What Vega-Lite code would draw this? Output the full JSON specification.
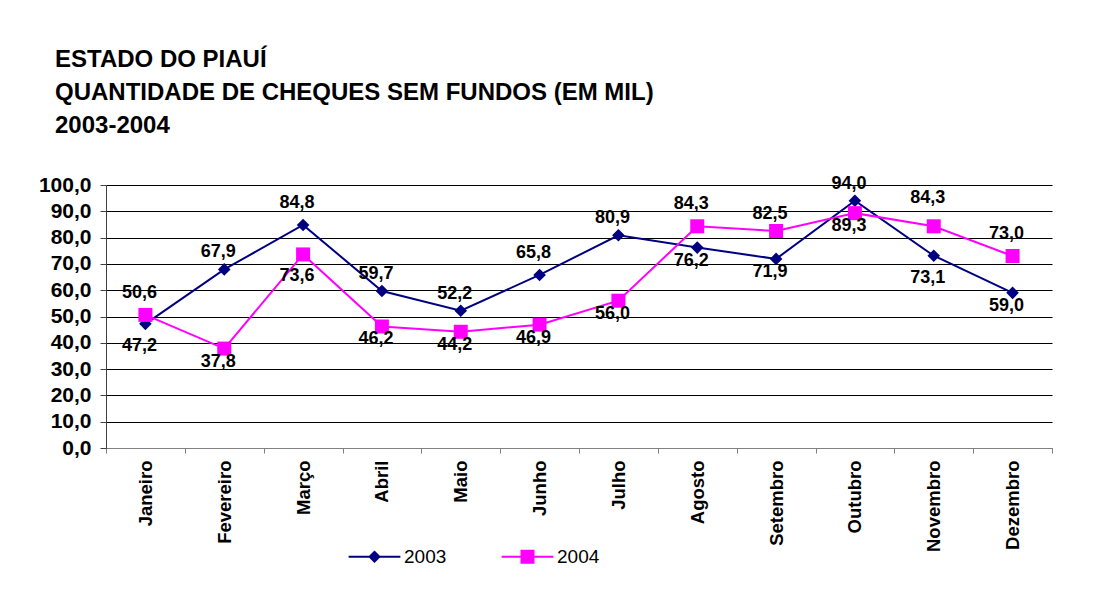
{
  "$schema": "https://vega.github.io/schema/vega-lite/v6.json",
  "width": 946,
  "height": 263,
  "autosize": {"type": "none"},
  "padding": {"left": 106, "top": 185, "right": 42, "bottom": 145},
  "background": "white",
  "config": {
    "view": {"stroke": null},
    "locale": {"number": {"decimal": ",", "thousands": ".", "grouping": [3], "currency": ["R$", ""]}}
  },
  "title": {
    "text": ["ESTADO DO PIAUÍ", "QUANTIDADE DE CHEQUES SEM FUNDOS (EM MIL)", "2003-2004"],
    "anchor": "start",
    "frame": "group",
    "dx": -51,
    "offset": 36,
    "font": "Liberation Sans",
    "fontSize": 24,
    "fontWeight": "bold",
    "lineHeight": 33,
    "color": "black"
  },
  "data": {
    "values": [
      {"month": "Janeiro", "year": "2003", "value": 47.2},
      {"month": "Fevereiro", "year": "2003", "value": 67.9},
      {"month": "Março", "year": "2003", "value": 84.8},
      {"month": "Abril", "year": "2003", "value": 59.7},
      {"month": "Maio", "year": "2003", "value": 52.2},
      {"month": "Junho", "year": "2003", "value": 65.8},
      {"month": "Julho", "year": "2003", "value": 80.9},
      {"month": "Agosto", "year": "2003", "value": 76.2},
      {"month": "Setembro", "year": "2003", "value": 71.9},
      {"month": "Outubro", "year": "2003", "value": 94.0},
      {"month": "Novembro", "year": "2003", "value": 73.1},
      {"month": "Dezembro", "year": "2003", "value": 59.0},
      {"month": "Janeiro", "year": "2004", "value": 50.6},
      {"month": "Fevereiro", "year": "2004", "value": 37.8},
      {"month": "Março", "year": "2004", "value": 73.6},
      {"month": "Abril", "year": "2004", "value": 46.2},
      {"month": "Maio", "year": "2004", "value": 44.2},
      {"month": "Junho", "year": "2004", "value": 46.9},
      {"month": "Julho", "year": "2004", "value": 56.0},
      {"month": "Agosto", "year": "2004", "value": 84.3},
      {"month": "Setembro", "year": "2004", "value": 82.5},
      {"month": "Outubro", "year": "2004", "value": 89.3},
      {"month": "Novembro", "year": "2004", "value": 84.3},
      {"month": "Dezembro", "year": "2004", "value": 73.0}
    ]
  },
  "encoding": {
    "x": {
      "field": "month",
      "type": "nominal",
      "sort": ["Janeiro", "Fevereiro", "Março", "Abril", "Maio", "Junho", "Julho", "Agosto", "Setembro", "Outubro", "Novembro", "Dezembro"],
      "scale": {"type": "band", "paddingInner": 0, "paddingOuter": 0},
      "axis": {
        "title": null,
        "labelAngle": -90,
        "labelFont": "Liberation Sans",
        "labelFontSize": 18.5,
        "labelFontWeight": "bold",
        "labelColor": "black",
        "labelPadding": 7,
        "tickSize": 5,
        "tickBand": "extent",
        "tickColor": "#808080",
        "domainColor": "#808080",
        "grid": false
      }
    },
    "y": {
      "field": "value",
      "type": "quantitative",
      "scale": {"domain": [0, 100], "nice": false},
      "axis": {
        "title": null,
        "values": [0, 10, 20, 30, 40, 50, 60, 70, 80, 90, 100],
        "labelExpr": "replace(format(datum.value, '.1f'), '.', ',')",
        "labelFont": "Liberation Sans",
        "labelFontSize": 21,
        "labelFontWeight": "bold",
        "labelColor": "black",
        "labelPadding": 9,
        "tickSize": 6,
        "tickColor": "#404040",
        "domainColor": "#404040",
        "grid": true,
        "gridColor": "#000000",
        "gridOpacity": 1,
        "gridWidth": 1
      }
    },
    "color": {
      "field": "year",
      "type": "nominal",
      "scale": {"domain": ["2003", "2004"], "range": ["#000080", "#FF00FF"]},
      "legend": {
        "title": null,
        "orient": "none",
        "legendX": 259,
        "legendY": 362,
        "direction": "horizontal",
        "padding": 0,
        "labelFont": "Liberation Sans",
        "labelFontSize": 19,
        "labelColor": "black",
        "symbolSize": 196,
        "labelOffset": 20,
        "columnPadding": 54,
        "encode": {
          "symbols": {
            "update": {
              "shape": {"signal": "datum.value == '2003' ? 'M-3.7,-0.143H3.7V0.143H-3.7ZM0,-0.9L0.9,0L0,0.9L-0.9,0Z' : 'M-3.7,-0.143H3.7V0.143H-3.7ZM-1,-1H1V1H-1Z'"},
              "strokeWidth": {"value": 0},
              "opacity": {"value": 1}
            }
          }
        }
      }
    }
  },
  "layer": [
    {"mark": {"type": "line", "strokeWidth": 2}},
    {
      "transform": [{"filter": {"field": "year", "equal": "2003"}}],
      "mark": {"type": "point", "filled": true, "opacity": 1, "size": 196, "shape": "M0,-0.9L0.9,0L0,0.9L-0.9,0Z"}
    },
    {
      "transform": [{"filter": {"field": "year", "equal": "2004"}}],
      "mark": {"type": "point", "filled": true, "opacity": 1, "size": 196, "shape": "M-1,-1H1V1H-1Z"}
    },
    {
      "transform": [{"filter": "indexof(['2003|Fevereiro','2003|Abril','2003|Maio','2003|Julho','2004|Setembro','2003|Outubro'], datum.year + '|' + datum.month) >= 0"}],
      "mark": {"type": "text", "dy": -17, "dx": -6, "font": "Liberation Sans", "fontSize": 18, "fontWeight": "bold", "baseline": "middle"},
      "encoding": {"text": {"field": "value", "type": "quantitative", "format": ".1f"}, "color": {"value": "black"}}
    },
    {
      "transform": [{"filter": "indexof(['2003|Março','2003|Junho','2004|Janeiro','2004|Agosto','2004|Dezembro'], datum.year + '|' + datum.month) >= 0"}],
      "mark": {"type": "text", "dy": -22, "dx": -6, "font": "Liberation Sans", "fontSize": 18, "fontWeight": "bold", "baseline": "middle"},
      "encoding": {"text": {"field": "value", "type": "quantitative", "format": ".1f"}, "color": {"value": "black"}}
    },
    {
      "transform": [{"filter": "indexof(['2004|Novembro'], datum.year + '|' + datum.month) >= 0"}],
      "mark": {"type": "text", "dy": -28, "dx": -6, "font": "Liberation Sans", "fontSize": 18, "fontWeight": "bold", "baseline": "middle"},
      "encoding": {"text": {"field": "value", "type": "quantitative", "format": ".1f"}, "color": {"value": "black"}}
    },
    {
      "transform": [{"filter": "indexof(['2003|Agosto','2003|Setembro','2003|Dezembro','2004|Fevereiro','2004|Abril','2004|Maio','2004|Junho','2004|Julho','2004|Outubro'], datum.year + '|' + datum.month) >= 0"}],
      "mark": {"type": "text", "dy": 13, "dx": -6, "font": "Liberation Sans", "fontSize": 18, "fontWeight": "bold", "baseline": "middle"},
      "encoding": {"text": {"field": "value", "type": "quantitative", "format": ".1f"}, "color": {"value": "black"}}
    },
    {
      "transform": [{"filter": "indexof(['2003|Janeiro','2003|Novembro','2004|Março'], datum.year + '|' + datum.month) >= 0"}],
      "mark": {"type": "text", "dy": 22, "dx": -6, "font": "Liberation Sans", "fontSize": 18, "fontWeight": "bold", "baseline": "middle"},
      "encoding": {"text": {"field": "value", "type": "quantitative", "format": ".1f"}, "color": {"value": "black"}}
    }
  ]
}
